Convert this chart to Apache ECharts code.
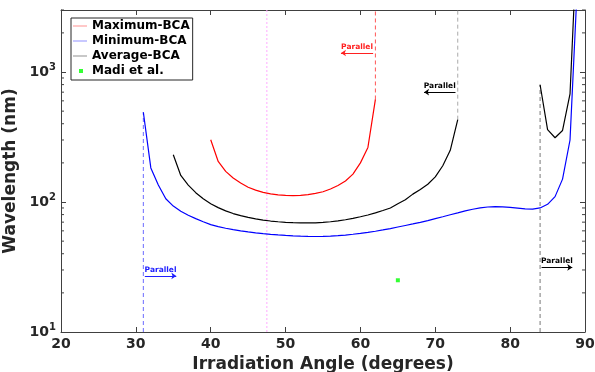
<!DOCTYPE html>
<html>
<head>
<meta charset="utf-8">
<script src="https://cdn.jsdelivr.net/npm/echarts@6/dist/echarts.min.js"></script>
<style>
  html, body { margin: 0; padding: 0; background: #fff; }
  #myChart { width: 595px; height: 372px; }
</style>
</head>
<body>
<div id="myChart"></div>
<script>
// ---- data ----
const maxAngles = [40, 41, 42, 43, 44, 45, 46, 47, 48, 49, 50, 51, 52, 53, 54, 55, 56, 57, 58, 59, 60, 61, 62]
const maxVals = [301, 205, 172, 153, 140, 130, 123.5, 118.5, 115.5, 113.5, 112.3, 112, 112.5, 114, 116.5, 120, 126, 134, 145, 164, 200, 263, 615]

const minAngles = [31, 32, 33, 34, 35, 36, 37, 38, 39, 40, 41, 42, 43, 44, 45, 46, 47, 48, 49, 50,
  51, 52, 53, 54, 55, 56, 57, 58, 59, 60, 61, 62, 63, 64, 65, 66, 67, 68, 69, 70,
  71, 72, 73, 74, 75, 76, 77, 78, 79, 80, 81, 82, 83, 84, 85, 86, 87, 88, 89]
const minVals = [490, 183, 135, 106, 93, 85, 79, 74.5, 70.5, 67, 64.6, 62.8, 61.3, 60, 58.9, 57.9, 57.1, 56.4, 55.8, 55.3,
  54.9, 54.6, 54.4, 54.3, 54.4, 54.7, 55.1, 55.7, 56.5, 57.4, 58.4, 59.6, 61, 62.5, 64.2, 66, 67.8, 69.8, 72, 74.5,
  77, 79.8, 82.5, 85.5, 88, 90, 91.5, 92, 91.8, 91, 89.8, 88.6, 88.3, 90, 96, 110, 150, 300, 5000]

// average curve comes in two pieces
const avgAngles1 = [35, 36, 37, 38, 39, 40, 41, 42, 43, 44, 45, 46, 47, 48, 49, 50, 51, 52, 53, 54,
  55, 56, 57, 58, 59, 60, 61, 62, 63, 64, 65, 66, 67, 68, 69, 70, 71, 72, 73]
const avgVals1 = [231, 160, 135, 118, 106, 97, 90.5, 85.5, 81.5, 78.5, 76.2, 74.2, 72.6, 71.4, 70.5, 69.8, 69.3, 69, 69, 69.2,
  69.7, 70.5, 71.6, 73, 74.8, 77, 79.5, 82.5, 86, 90, 97, 104, 115, 125, 137, 156, 190, 250, 430]
const avgAngles2 = [84, 85, 86, 87, 88, 89]
const avgVals2 = [798, 360, 312, 355, 680, 13000]

const madiPoint = [[65, 25]]

// "Parallel" limit lines and arrows
const brewsterAngle = 47.5
const arrowSpans = [[31.2, 35.4], [57.4, 61.7], [68.5, 72.7], [84.2, 88.3]]
const arrowLevels = [27, 1400, 700, 31.4]

const xTicks = [20, 30, 40, 50, 60, 70, 80, 90]
const yMinorTicks = [20, 30, 40, 50, 60, 70, 80, 90, 200, 300, 400, 500, 600, 700, 800, 900, 2000, 3000]

const yMin = 10
const yMax = 3000

function pairs(xs, ys) {
  return xs.map((x, i) => [x, ys[i]])
}
function last(a) {
  return a[a.length - 1]
}

const txt = '#262626'
const font = 'DejaVu Sans'
const lineIcon = 'path://M0,5.5h14v1h-14z'

// a plain dashed vertical line, drawn as a line series
function vline(x, y0, y1, color, dash) {
  return {
    type: 'line',
    symbol: 'none',
    silent: true,
    z: 1,
    lineStyle: { color: color, width: 1, type: dash },
    data: [[x, y0], [x, y1]],
  }
}

// an arrow with the "Parallel" text above it
function arrowSeries(idxs, color, heads) {
  return {
    type: 'line',
    symbol: 'none',
    silent: true,
    data: [],
    markLine: {
      silent: true,
      symbol: 'none',
      lineStyle: { color: color, width: 1, type: 'solid' },
      label: {
        show: true, formatter: 'Parallel', position: 'insideMiddleTop', distance: 2,
        color: color, fontSize: 7.5, fontWeight: 'bold', fontFamily: font,
      },
      data: idxs.map((i, k) => [
        { coord: [arrowSpans[i][0], arrowLevels[i]], symbol: heads[k] === 'left' ? 'arrow' : 'none', symbolSize: 5 },
        { coord: [arrowSpans[i][1], arrowLevels[i]], symbol: heads[k] === 'left' ? 'none' : 'arrow', symbolSize: 5 },
      ]),
    },
  }
}

function legendLine(name, color) {
  return {
    name: name,
    icon: lineIcon,
    itemStyle: { color: color, borderWidth: 0, borderColor: color },
    lineStyle: { color: color, width: 1 },
  }
}

let myChart = echarts.init(document.getElementById('myChart'), null, { renderer: 'canvas' })

myChart.setOption({
  animation: false,
  backgroundColor: '#fff',
  textStyle: { fontFamily: font },
  grid: { left: 61, right: 10, top: 10, bottom: 40, containLabel: false, outerBoundsMode: 'none' },
  legend: {
    orient: 'vertical',
    left: 71,
    top: 18,
    itemWidth: 14,
    itemHeight: 12,
    itemGap: 3,
    padding: [2, 3, 3, 2],
    borderColor: txt,
    borderWidth: 1,
    backgroundColor: '#fff',
    textStyle: { fontSize: 12, fontWeight: 'bold', color: '#000', fontFamily: font },
    data: [
      legendLine('Maximum-BCA', '#ff9090'),
      legendLine('Minimum-BCA', '#9090ff'),
      legendLine('Average-BCA', '#909090'),
      { name: 'Madi et al.', icon: 'path://M0,0M14,12M6,4h4v4h-4z', itemStyle: { color: '#00ff00', borderWidth: 0 } },
    ],
  },
  xAxis: [
    {
      type: 'value',
      min: 20,
      max: 90,
      interval: 10,
      name: 'Irradiation Angle (degrees)',
      nameLocation: 'middle',
      nameGap: 21,
      nameTextStyle: { fontSize: 17, fontWeight: 'bold', color: txt },
      axisLine: { show: true, lineStyle: { color: '#404040', width: 1 } },
      axisTick: { show: true, inside: true, length: 5, lineStyle: { color: '#404040' } },
      axisLabel: { margin: 5, fontSize: 14, fontWeight: 'bold', color: txt, showMinLabel: true, showMaxLabel: true },
      splitLine: { show: false },
    },
    {
      type: 'value',
      position: 'top',
      min: 20,
      max: 90,
      interval: 10,
      axisLine: { show: true, lineStyle: { color: '#404040', width: 1 } },
      axisTick: { show: true, inside: true, length: 5, lineStyle: { color: '#404040' } },
      axisLabel: { show: false },
      splitLine: { show: false },
    },
  ],
  yAxis: [
    {
      type: 'log',
      logBase: 10,
      min: yMin,
      max: yMax,
      name: 'Wavelength (nm)',
      nameLocation: 'middle',
      nameGap: 36,
      nameTextStyle: { fontSize: 17, fontWeight: 'bold', color: txt },
      axisLine: { show: true, lineStyle: { color: '#404040', width: 1 } },
      axisTick: { show: true, inside: true, length: 5, lineStyle: { color: '#404040' } },
      axisLabel: {
        margin: 5,
        formatter: function (v) {
          const e = Math.log10(v)
          if (Math.abs(e - Math.round(e)) > 1e-6) return ''
          return '{b|10}{s|' + Math.round(e) + '}'
        },
        rich: {
          b: { fontSize: 14, fontWeight: 'bold', color: txt, fontFamily: font },
          s: { fontSize: 10, fontWeight: 'bold', color: txt, fontFamily: font, verticalAlign: 'top', padding: [0, 0, 9, 0] },
        },
      },
      splitLine: { show: false },
    },
    {
      type: 'log',
      logBase: 10,
      min: yMin,
      max: yMax,
      position: 'right',
      axisLine: { show: true, lineStyle: { color: '#404040', width: 1 } },
      axisTick: { show: true, inside: true, length: 5, lineStyle: { color: '#404040' } },
      axisLabel: { show: false },
      splitLine: { show: false },
    },
  ],
  series: [
    {
      name: 'Maximum-BCA',
      type: 'line',
      symbol: 'none',
      z: 3,
      lineStyle: { color: '#ff0000', width: 1.2 },
      itemStyle: { color: '#ff0000' },
      data: pairs(maxAngles, maxVals),
    },
    {
      name: 'Minimum-BCA',
      type: 'line',
      symbol: 'none',
      z: 3,
      lineStyle: { color: '#0000ff', width: 1.2 },
      itemStyle: { color: '#0000ff' },
      data: pairs(minAngles, minVals),
    },
    {
      name: 'Average-BCA',
      type: 'line',
      symbol: 'none',
      z: 3,
      connectNulls: false,
      lineStyle: { color: '#000000', width: 1.2 },
      itemStyle: { color: '#000000' },
      data: pairs(avgAngles1, avgVals1).concat([[78, null]], pairs(avgAngles2, avgVals2)),
    },
    {
      name: 'Madi et al.',
      type: 'scatter',
      symbol: 'rect',
      symbolSize: 4,
      z: 3,
      itemStyle: { color: '#00ff00' },
      data: madiPoint,
    },
    // limit lines
    vline(minAngles[0], yMin, minVals[0], '#6a6aff', [4, 3]),
    vline(last(maxAngles), last(maxVals), yMax, '#ff5555', [4, 3]),
    vline(last(avgAngles1), last(avgVals1), yMax, '#aaaaaa', [4, 3]),
    vline(avgAngles2[0], yMin, avgVals2[0], '#777777', [4, 3]),
    vline(brewsterAngle, yMin, yMax, '#ffaaff', [2, 2]),
    // arrows
    arrowSeries([0], '#2020ff', ['right']),
    arrowSeries([1], '#ff2020', ['left']),
    arrowSeries([2, 3], '#000000', ['left', 'right']),
    {
      // minor ticks of the log axis, on both sides
      type: 'custom',
      silent: true,
      clip: false,
      z: 10,
      data: yMinorTicks.map(v => [xTicks[0], v]),
      renderItem: function (params, api) {
        const v = api.value(1)
        const l = api.coord([xTicks[0], v])
        const r = api.coord([last(xTicks), v])
        const st = { stroke: '#404040', lineWidth: 1 }
        return {
          type: 'group',
          children: [
            { type: 'line', shape: { x1: l[0], y1: l[1], x2: l[0] + 3, y2: l[1] }, style: st },
            { type: 'line', shape: { x1: r[0] - 3, y1: r[1], x2: r[0], y2: r[1] }, style: st },
          ],
        }
      },
    },
  ],
})
</script>
</body>
</html>
